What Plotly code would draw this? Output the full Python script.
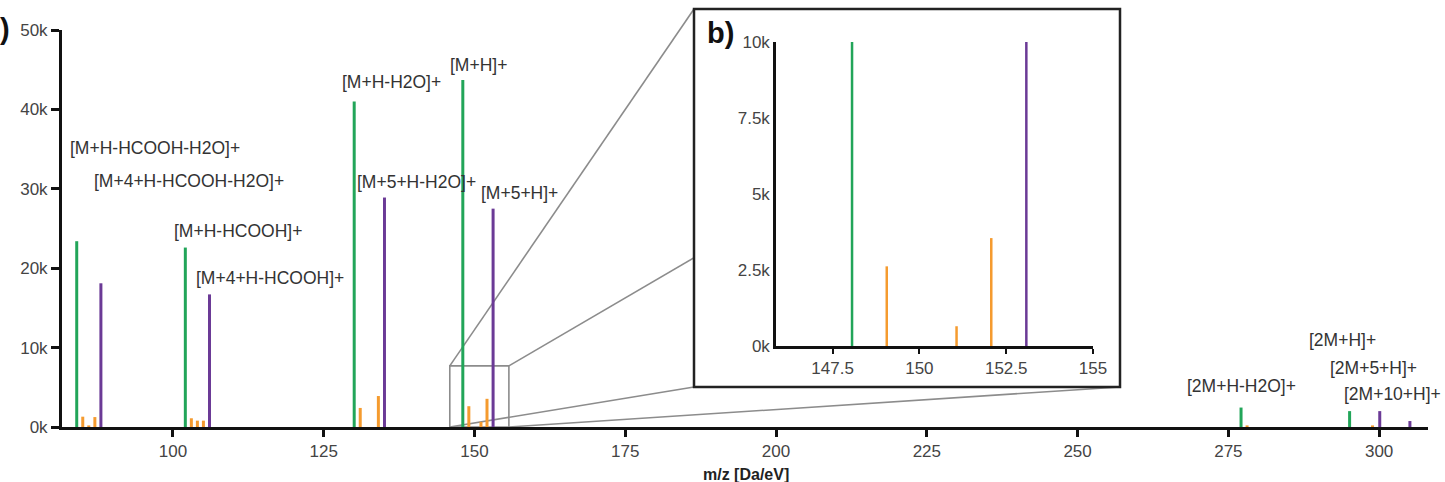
import plotly.graph_objects as go

# ---------------- data ----------------
mz_green = [84.04, 102.05, 130.05, 148.06, 277.10, 295.10]
int_green = [23400, 22600, 41000, 43700, 2450, 2000]

mz_purple = [88.05, 106.06, 135.07, 153.08, 300.10, 305.10]
int_purple = [18100, 16700, 28900, 27500, 2000, 750]

mz_orange = [85.04, 86.04, 87.05, 103.05, 104.05, 105.05, 131.05, 134.06,
             149.06, 151.07, 152.07, 278.10, 298.90]
int_orange = [1300, 200, 1250, 1100, 800, 800, 2400, 3900,
              2620, 650, 3550, 200, 200]

labels = ["[M+H-HCOOH-H2O]+", "[M+4+H-HCOOH-H2O]+", "[M+H-HCOOH]+",
          "[M+4+H-HCOOH]+", "[M+H-H2O]+", "[M+H]+", "[M+5+H-H2O]+",
          "[M+5+H]+", "[2M+H-H2O]+", "[2M+H]+", "[2M+5+H]+", "[2M+10+H]+"]
label_x = [97.0, 102.65, 110.8, 116.1, 136.3, 150.7, 140.3, 157.5,
           277.1, 294.0, 299.0, 302.2]
label_y = [35100, 31000, 24700, 18800, 43500, 45600, 30900, 29500,
           5200, 11000, 7400, 4200]

main_xticks = [100, 125, 150, 175, 200, 225, 250, 275, 300]
main_yticks = [0, 10000, 20000, 30000, 40000, 50000]
main_yticktext = ["0k", "10k", "20k", "30k", "40k", "50k"]
inset_xticks = [147.5, 150, 152.5, 155]
inset_xticktext = ["147.5", "150", "152.5", "155"]
inset_yticks = [0, 2500, 5000, 7500, 10000]
inset_yticktext = ["0k", "2.5k", "5k", "7.5k", "10k"]
x_title = "<b>m/z [Da/eV]</b>"

# ---------------- style ----------------
GREEN = "#22a559"
PURPLE = "#6b3a96"
ORANGE = "#f59b2f"
FONT = "Liberation Sans, Arial, sans-serif"

X_RANGE = [81.6, 308.1]
Y_RANGE = [0, 50000]
INSET_X = [145.87, 155.0]
INSET_Y = [0, 10000]

# plot area in pixels
PL, PR, PT, PB = 62, 1428, 30, 427


def px(xp, yp):
    return (xp - PL) / (PR - PL), (PB - yp) / (PB - PT)


def d2p(x, y):
    return ((x - X_RANGE[0]) / (X_RANGE[1] - X_RANGE[0]),
            (y - Y_RANGE[0]) / (Y_RANGE[1] - Y_RANGE[0]))


def sticks(xs, ys):
    sx, sy = [], []
    for a, b in zip(xs, ys):
        sx += [a, a, None]
        sy += [0, b, None]
    return sx, sy


fig = go.Figure()

series = [(mz_green, int_green, GREEN), (mz_orange, int_orange, ORANGE),
          (mz_purple, int_purple, PURPLE)]
for xs, ys, col in series:
    sx, sy = sticks(xs, ys)
    fig.add_trace(go.Scatter(x=sx, y=sy, mode="lines",
                             line=dict(color=col, width=3),
                             xaxis="x", yaxis="y", showlegend=False,
                             hoverinfo="skip"))
for xs, ys, col in series:
    sx, sy = sticks(xs, ys)
    fig.add_trace(go.Scatter(x=sx, y=sy, mode="lines",
                             line=dict(color=col, width=2.5),
                             xaxis="x2", yaxis="y2", showlegend=False,
                             hoverinfo="skip"))

# inset placement (pixels -> paper)
ix0, iy0 = px(776, 346)
ix1, iy1 = px(1093, 42)
fx0, fy0 = px(694, 387)
fx1, fy1 = px(1120, 9)

# zoom rectangle in main data coordinates
RX0, RX1, RY1 = 145.9, 155.7, 7700
r_tl = d2p(RX0, RY1)
r_tr = d2p(RX1, RY1)
r_bl = d2p(RX0, 0)
r_br = d2p(RX1, 0)

LINE_GREY = "#8c8c8c"
shapes = []
for (a, b) in [(r_tl, (fx0, fy1)), (r_tr, (fx1, fy1)),
               (r_bl, (fx0, fy0)), (r_br, (fx1, fy0))]:
    shapes.append(dict(type="line", xref="paper", yref="paper",
                       x0=a[0], y0=a[1], x1=b[0], y1=b[1],
                       line=dict(color=LINE_GREY, width=1.6), layer="below"))
shapes.append(dict(type="rect", xref="paper", yref="paper",
                   x0=fx0, y0=fy0, x1=fx1, y1=fy1,
                   fillcolor="white", line=dict(color="#222222", width=2.5),
                   layer="below"))
shapes.append(dict(type="rect", xref="x", yref="y",
                   x0=RX0, x1=RX1, y0=0, y1=RY1,
                   line=dict(color=LINE_GREY, width=1.6), layer="below"))

annotations = []
for t, x, y in zip(labels, label_x, label_y):
    annotations.append(dict(text=t, x=x, y=y, xref="x", yref="y",
                            showarrow=False, xanchor="center",
                            yanchor="middle",
                            font=dict(family=FONT, size=17.5, color="#333333")))
bx, by = px(705, 33)
annotations.append(dict(text="<b>b)</b>", x=bx, y=by, xref="paper",
                        yref="paper", showarrow=False, xanchor="left",
                        yanchor="middle",
                        font=dict(family=FONT, size=29, color="#111111")))
# panel label "a)" is cropped at the left edge of the reference: only ")" shows
ax_, ay_ = px(0, 29)
annotations.append(dict(text="<b>)</b>", x=ax_, y=ay_, xref="paper",
                        yref="paper", showarrow=False, xanchor="left",
                        yanchor="middle", xshift=-2,
                        font=dict(family=FONT, size=29, color="#111111")))
# x axis title
tx, ty = px(746, 474)
annotations.append(dict(text=x_title, x=tx, y=ty, xref="paper", yref="paper",
                        showarrow=False, xanchor="center", yanchor="middle",
                        font=dict(family=FONT, size=16, color="#222222")))

tickfont = dict(family=FONT, size=17, color="#444444")
fig.update_layout(
    width=1445, height=482,
    margin=dict(l=PL, r=1445 - PR, t=PT, b=482 - PB, autoexpand=False),
    paper_bgcolor="white", plot_bgcolor="white",
    font=dict(family=FONT),
    xaxis=dict(range=X_RANGE, domain=[0, 1], anchor="y", automargin=False,
               tickvals=main_xticks, ticks="outside", ticklen=7,
               tickwidth=2.5, tickcolor="#111111", showline=True,
               linecolor="#111111", linewidth=3, showgrid=False,
               zeroline=False, tickfont=tickfont),
    yaxis=dict(range=Y_RANGE, domain=[0, 1], anchor="x", automargin=False,
               tickvals=main_yticks, ticktext=main_yticktext,
               ticks="outside", ticklen=8, tickwidth=2.5,
               tickcolor="#111111", showline=True, linecolor="#111111",
               linewidth=3, showgrid=False, zeroline=False,
               tickfont=tickfont),
    xaxis2=dict(range=INSET_X, domain=[ix0, ix1], anchor="y2",
                automargin=False,
                tickvals=inset_xticks, ticktext=inset_xticktext,
                ticks="outside", ticklen=5, tickwidth=2,
                tickcolor="#111111", showline=True, linecolor="#111111",
                linewidth=2.5, showgrid=False, zeroline=False,
                tickfont=tickfont),
    yaxis2=dict(range=INSET_Y, domain=[iy0, iy1], anchor="x2",
                automargin=False,
                tickvals=inset_yticks, ticktext=inset_yticktext,
                ticks="", showline=True, linecolor="#111111",
                linewidth=2.5, showgrid=False, zeroline=False,
                tickfont=tickfont),
    shapes=shapes,
    annotations=annotations,
)

fig.write_html("out.html")
